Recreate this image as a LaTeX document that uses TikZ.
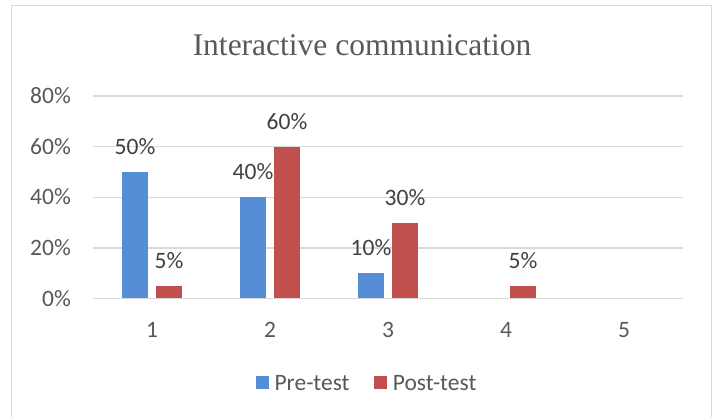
\documentclass[tikz,border=0pt]{standalone}
\usepackage{fontspec}
\setmainfont{Carlito}
\newfontfamily\titlefont{Liberation Serif}
\definecolor{txt}{HTML}{595959}
\definecolor{datatxt}{HTML}{404040}
\definecolor{gridc}{HTML}{D9D9D9}
\definecolor{preblue}{HTML}{558ED5}
\definecolor{postred}{HTML}{C0504D}
\begin{document}
\begin{tikzpicture}[x=1pt,y=-1pt,
  lbl/.style={text=txt,font=\fontsize{23.5}{28}\selectfont,inner sep=0pt},
  datalbl/.style={lbl,text=datatxt,anchor=base},
  gridline/.style={draw=gridc,line width=1.3pt},
  prebar/.style={fill=preblue},
  postbar/.style={fill=postred},
  keybox/.style={minimum size=13.5pt,inner sep=0pt,anchor=south west}]
\useasboundingbox (0,0) rectangle (714,417);
\fill[white] (0,0) rectangle (714,417);
% chart frame
\draw[gridc,line width=1.5pt] (11.5,417) -- (11.5,5.5) -- (711.5,5.5) -- (711.5,417);
% title
\node[text=txt,font=\titlefont\fontsize{31.5}{36}\selectfont,inner sep=0pt,anchor=base] (title) at (362,56) {Interactive communication};
% gridlines and axis labels
\foreach \v/\yy in {0/298.7,20/248,40/197.3,60/146.7,80/96}{
  \draw[gridline] (93,\yy) -- (683,\yy);
  \node[lbl,anchor=base east] (ytick\v) at (71,\yy+7.5) {\v\%};
}
% bars and labels
\foreach \c/\pre/\post [count=\i] in {152/50/5,270/40/60,388/10/30,506/0/5,624/0/0}{
  \ifnum\pre>0
    \fill[prebar] (\c-30.2,298.2) rectangle (\c-3.8,{298.7-2.533*\pre});
    \node[datalbl] (prelbl\i) at (\c-17,{298.7-2.533*\pre-17.7}) {\pre\%};
  \fi
  \ifnum\post>0
    \fill[postbar] (\c+3.8,298.2) rectangle (\c+30.2,{298.7-2.533*\post});
    \node[datalbl] (postlbl\i) at (\c+17,{298.7-2.533*\post-17.7}) {\post\%};
  \fi
  \node[lbl,anchor=base] (xtick\i) at (\c,337.3) {\i};
}
% legend
\node[keybox,fill=preblue] (keypre) at (255.5,389.5) {};
\node[lbl,anchor=base west] (legpre) at (274.3,390) {Pre-test};
\node[keybox,fill=postred] (keypost) at (373.5,389.5) {};
\node[lbl,anchor=base west] (legpost) at (392.7,390) {Post-test};
\end{tikzpicture}
\end{document}
